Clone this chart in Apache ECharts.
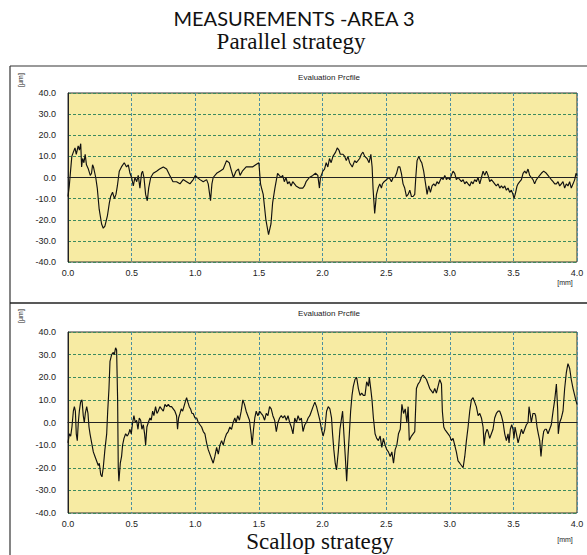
<!DOCTYPE html>
<html>
<head>
<meta charset="utf-8">
<script src="https://cdn.jsdelivr.net/npm/echarts@6/dist/echarts.min.js"></script>
<style>
html,body{margin:0;padding:0;background:#fff;}
#chart{width:587px;height:555px;}
</style>
</head>
<body>
<div id="chart"></div>
<script>
// ---------- DATA ----------
const mainTitle = "MEASUREMENTS -AREA 3";
const topTitle = "Parallel strategy";
const bottomTitle = "Scallop strategy";
const panelTitle = "Evaluation Prcfile";
const yUnit = "[µm]";
const xUnit = "[mm]";
const xTicks = [0, 0.5, 1.0, 1.5, 2.0, 2.5, 3.0, 3.5, 4.0];
const yTicks = [-40, -30, -20, -10, 0, 10, 20, 30, 40];

// Parallel strategy profile: position (mm) and height (µm)
const parallelX = [0.000,0.010,0.020,0.030,0.042,0.055,0.065,0.080,0.090,0.100,0.107,0.115,0.125,0.135,0.145,0.160,0.175,0.185,0.193,0.200,0.218,0.230,0.245,0.264,0.277,0.290,0.310,0.325,0.335,0.350,0.365,0.377,0.388,0.403,0.420,0.442,0.460,0.474,0.487,0.500,0.513,0.526,0.540,0.552,0.565,0.578,0.586,0.597,0.610,0.623,0.634,0.650,0.670,0.696,0.720,0.749,0.775,0.800,0.825,0.853,0.880,0.905,0.932,0.958,0.984,1.000,1.016,1.037,1.063,1.089,1.102,1.120,1.131,1.141,1.168,1.194,1.220,1.246,1.267,1.285,1.300,1.320,1.340,1.352,1.370,1.400,1.425,1.450,1.475,1.500,1.513,1.521,1.534,1.555,1.576,1.595,1.608,1.626,1.647,1.660,1.674,1.687,1.700,1.713,1.726,1.739,1.753,1.766,1.792,1.818,1.845,1.858,1.871,1.897,1.924,1.945,1.963,1.976,1.984,2.003,2.016,2.029,2.042,2.055,2.068,2.082,2.103,2.116,2.129,2.140,2.161,2.174,2.187,2.200,2.213,2.234,2.253,2.266,2.292,2.305,2.318,2.332,2.350,2.366,2.380,2.390,2.397,2.410,2.424,2.437,2.450,2.463,2.471,2.484,2.503,2.524,2.542,2.555,2.568,2.582,2.595,2.608,2.620,2.633,2.646,2.660,2.673,2.686,2.699,2.712,2.725,2.733,2.743,2.757,2.770,2.780,2.795,2.810,2.822,2.835,2.848,2.861,2.874,2.887,2.900,2.913,2.935,2.948,2.961,2.974,2.987,3.000,3.013,3.026,3.039,3.052,3.065,3.079,3.092,3.105,3.118,3.131,3.144,3.157,3.170,3.183,3.196,3.209,3.222,3.236,3.249,3.262,3.275,3.288,3.301,3.314,3.327,3.340,3.353,3.366,3.380,3.393,3.406,3.419,3.432,3.445,3.458,3.471,3.484,3.497,3.505,3.518,3.529,3.537,3.550,3.563,3.576,3.589,3.602,3.615,3.628,3.641,3.654,3.667,3.681,3.694,3.707,3.720,3.738,3.759,3.772,3.785,3.798,3.812,3.825,3.838,3.851,3.864,3.877,3.890,3.903,3.916,3.929,3.942,3.955,3.969,3.982,3.992,4.000];
const parallelY = [-9,-4,3,10,12,14,11,15,13,16,5,9,7,11,6,4,1,2,6,5,0,-5,-15,-22,-24,-23,-18,-12,-9,-7,-10,-8,-4,3,5,7,5,6,2,0,-4,0,-2,1,-5,2,3,0,-8,-11,-5,0,2,3,4,5,4,1,-2,-2,-3,-1,-2,-3,-1,1,0,-1,-2,-1,-3,-11,-3,0,2,3,4,8,7,3,0,3,4,1,3,5,5,5,6,7,-3,-5,-8,-20,-27,-22,-12,-5,2,1,0,1,-2,0,-3,-2,-4,-2,-4,-5,-5,-4,-2,0,1,2,1,-5,0,3,4,7,5,9,7,10,12,14,13,11,11,10,8,10,7,5,8,7,9,11,12,10,9,7,11,5,-5,-17,-8,-5,-3,-5,-3,-2,-1,0,-2,0,0,2,5,5,2,-3,-5,-9,-8,-6,-9,-9,-8,0,8,10,8,7,3,-3,-8,-4,-7,-4,-3,-4,-2,-3,0,-1,1,-1,0,-1,1,3,2,-1,0,-1,-2,-1,-3,-2,-3,-4,-2,-3,-1,-2,0,-3,0,3,1,3,1,-2,-1,-2,-3,-4,-3,-5,-4,-5,-4,-6,-5,-7,-6,-8,-10,-7,-4,-3,-2,-1,2,3,2,4,1,0,-1,-3,-1,0,1,2,3,2,1,0,-1,-2,-3,-3,-2,-4,-3,-2,-5,-3,-4,-2,-5,-3,-1,2,1];

// Scallop strategy profile: position (mm) and height (µm)
const scallopX = [0.000,0.010,0.021,0.031,0.042,0.050,0.058,0.065,0.073,0.081,0.089,0.099,0.110,0.120,0.128,0.136,0.147,0.157,0.165,0.173,0.186,0.199,0.212,0.225,0.238,0.246,0.257,0.267,0.277,0.290,0.304,0.312,0.322,0.330,0.343,0.356,0.364,0.374,0.382,0.390,0.395,0.400,0.411,0.421,0.429,0.440,0.453,0.466,0.476,0.487,0.497,0.508,0.518,0.529,0.539,0.550,0.560,0.571,0.581,0.592,0.602,0.610,0.620,0.631,0.644,0.654,0.665,0.675,0.688,0.699,0.709,0.722,0.735,0.749,0.762,0.775,0.788,0.801,0.814,0.827,0.840,0.853,0.861,0.869,0.880,0.890,0.901,0.911,0.921,0.932,0.942,0.953,0.963,0.974,0.984,0.998,1.011,1.024,1.037,1.050,1.063,1.076,1.089,1.102,1.115,1.128,1.141,1.154,1.168,1.181,1.194,1.207,1.220,1.233,1.246,1.259,1.272,1.285,1.298,1.311,1.321,1.334,1.347,1.361,1.374,1.387,1.400,1.413,1.426,1.439,1.447,1.458,1.468,1.479,1.492,1.505,1.518,1.532,1.545,1.558,1.571,1.584,1.597,1.610,1.624,1.637,1.650,1.663,1.676,1.689,1.703,1.716,1.729,1.742,1.755,1.768,1.782,1.795,1.808,1.821,1.834,1.847,1.861,1.874,1.887,1.900,1.913,1.926,1.940,1.953,1.966,1.979,1.992,2.005,2.018,2.032,2.045,2.058,2.071,2.079,2.089,2.100,2.110,2.124,2.137,2.150,2.158,2.168,2.179,2.190,2.200,2.211,2.221,2.232,2.242,2.255,2.268,2.282,2.295,2.308,2.321,2.334,2.347,2.361,2.368,2.379,2.389,2.400,2.413,2.426,2.439,2.453,2.466,2.479,2.492,2.505,2.518,2.532,2.545,2.558,2.571,2.584,2.597,2.611,2.624,2.637,2.650,2.663,2.673,2.682,2.699,2.712,2.725,2.738,2.751,2.764,2.777,2.790,2.804,2.817,2.830,2.843,2.856,2.869,2.882,2.895,2.908,2.921,2.935,2.942,2.953,2.961,2.974,2.987,3.000,3.013,3.026,3.039,3.052,3.065,3.079,3.092,3.105,3.118,3.131,3.144,3.157,3.170,3.183,3.196,3.209,3.223,3.236,3.249,3.262,3.270,3.280,3.293,3.301,3.314,3.327,3.340,3.353,3.366,3.380,3.393,3.406,3.419,3.432,3.445,3.458,3.466,3.476,3.487,3.497,3.505,3.513,3.524,3.537,3.550,3.563,3.576,3.589,3.602,3.615,3.623,3.634,3.641,3.654,3.668,3.675,3.686,3.696,3.707,3.717,3.728,3.738,3.749,3.759,3.772,3.785,3.798,3.812,3.825,3.838,3.848,3.853,3.864,3.877,3.890,3.903,3.916,3.929,3.942,3.955,3.969,3.982,3.990,4.000];
const scallopY = [-9,-5,-6,-2,5,7,5,-5,-8,0,5,9,10,3,0,4,7,4,-2,-5,-9,-13,-15,-17,-19,-18,-23,-24,-20,-12,-5,5,15,27,30,31,30,33,32,10,-20,-26,-18,-15,-10,-7,-5,-6,-5,-3,-5,0,3,0,1,-3,2,1,-3,-1,-5,-10,-2,0,2,1,5,3,7,4,5,7,6,5,8,7,8,7,7,6,5,3,-3,2,4,6,5,7,9,11,9,7,6,4,4,2,2,0,-1,-2,-4,-5,-9,-12,-14,-16,-18,-15,-11,-14,-10,-8,-10,-7,-5,-4,-2,-3,0,2,0,3,1,5,10,8,5,3,1,-5,-10,-3,2,5,3,5,4,3,1,4,3,7,6,3,1,-4,0,2,3,2,3,1,3,0,-2,-5,2,0,3,1,2,-4,-1,0,2,3,5,7,9,7,4,1,-3,-6,-3,5,7,6,2,-5,-12,-18,-21,-13,-3,2,5,-5,-15,-26,-15,-5,5,12,16,19,20,15,12,13,12,12,18,16,20,15,10,2,-5,-7,-8,-6,-11,-7,-10,-12,-13,-15,-13,-18,-12,-10,-5,-3,8,4,6,0,7,-8,-6,-5,-4,15,17,18,20,21,20,19,17,15,14,13,15,13,16,19,17,5,-2,-3,-4,-5,-6,-8,-7,-10,-13,-17,-18,-19,-20,-15,-8,-2,5,10,11,9,7,3,4,2,-2,-10,-5,-3,-4,-7,-5,-3,2,4,5,5,3,0,-5,-8,-5,-9,-3,-1,-3,-7,-2,-5,-9,-6,-3,-5,-3,-1,0,7,3,0,4,4,3,-2,-5,-8,-15,-8,-4,-3,-3,-5,-3,-1,5,10,17,6,-5,0,2,5,15,22,26,24,19,15,12,10,8];

// ---------- CHART ----------
const chart = echarts.init(document.getElementById('chart'), null, {renderer: 'svg'});
const pairs = (xs, ys) => xs.map((x, i) => [x, ys[i]]);

const plotBg = '#F7EBA3';
const tickFont = {fontFamily: 'Liberation Sans, Arial, sans-serif', fontSize: 9, color: '#222'};

function xAxisCfg(gridIndex, margin) {
  return {
    type: 'value', gridIndex: gridIndex,
    min: xTicks[0], max: xTicks[xTicks.length - 1], interval: 0.5,
    axisLine: {show: true, lineStyle: {color: '#222', width: 1}},
    axisTick: {show: false},
    axisLabel: Object.assign({margin: margin, formatter: v => v.toFixed(1)}, tickFont),
    splitLine: {show: true, lineStyle: {color: '#4a8fa0', type: [3, 2], width: 1}}
  };
}
function yAxisCfg(gridIndex) {
  return {
    type: 'value', gridIndex: gridIndex,
    min: yTicks[0], max: yTicks[yTicks.length - 1], interval: 10,
    axisLine: {show: true, lineStyle: {color: '#222', width: 1}},
    axisTick: {show: false},
    axisLabel: Object.assign({margin: 12, formatter: v => v.toFixed(1)}, tickFont),
    splitLine: {show: true, lineStyle: {color: '#3d8a5e', type: [3, 2], width: 1}}
  };
}
function seriesCfg(idx, data) {
  return {
    type: 'line', xAxisIndex: idx, yAxisIndex: idx,
    data: data, showSymbol: false, symbol: 'none', animation: false,
    lineStyle: {color: '#111', width: 1.15},
    markLine: {
      silent: true, symbol: 'none', animation: false,
      label: {show: false},
      lineStyle: {color: '#222', type: 'solid', width: 1.2},
      data: [{yAxis: 0}]
    }
  };
}

const option = {
  animation: false,
  backgroundColor: '#fff',
  grid: [
    {left: 68, top: 93, width: 509, height: 169, show: true, backgroundColor: plotBg, borderColor: '#333', borderWidth: 1},
    {left: 68, top: 332, width: 509, height: 181, show: true, backgroundColor: plotBg, borderColor: '#333', borderWidth: 1}
  ],
  xAxis: [xAxisCfg(0, 6), xAxisCfg(1, 6)],
  yAxis: [yAxisCfg(0), yAxisCfg(1)],
  series: [seriesCfg(0, pairs(parallelX, parallelY)), seriesCfg(1, pairs(scallopX, scallopY))],
  graphic: [
    {type: 'line', shape: {x1: 10, y1: 66, x2: 587, y2: 66}, style: {stroke: '#777', lineWidth: 1.5}},
    {type: 'line', shape: {x1: 10, y1: 66, x2: 10, y2: 555}, style: {stroke: '#333', lineWidth: 1.2}},
    {type: 'line', shape: {x1: 10, y1: 303, x2: 587, y2: 303}, style: {stroke: '#222', lineWidth: 1.5}},
    {type: 'text', x: 294, y: 18, style: {text: mainTitle, font: '20px Lato, "Open Sans", sans-serif', fill: '#111', textAlign: 'center', textVerticalAlign: 'middle'}},
    {type: 'text', x: 291, y: 41, style: {text: topTitle, font: '23px "Liberation Serif", "Times New Roman", serif', fill: '#111', textAlign: 'center', textVerticalAlign: 'middle'}},
    {type: 'text', x: 320, y: 541, style: {text: bottomTitle, font: '23px "Liberation Serif", "Times New Roman", serif', fill: '#111', textAlign: 'center', textVerticalAlign: 'middle'}},
    {type: 'text', x: 329, y: 77, style: {text: panelTitle, font: '8px "Liberation Sans", Arial, sans-serif', fill: '#222', textAlign: 'center', textVerticalAlign: 'middle'}},
    {type: 'text', x: 329, y: 313, style: {text: panelTitle, font: '8px "Liberation Sans", Arial, sans-serif', fill: '#222', textAlign: 'center', textVerticalAlign: 'middle'}},
    {type: 'text', x: 20, y: 80, rotation: Math.PI / 2, style: {text: yUnit, font: '7px "Liberation Sans", Arial, sans-serif', fill: '#222', textAlign: 'center', textVerticalAlign: 'middle'}},
    {type: 'text', x: 20, y: 316, rotation: Math.PI / 2, style: {text: yUnit, font: '7px "Liberation Sans", Arial, sans-serif', fill: '#222', textAlign: 'center', textVerticalAlign: 'middle'}},
    {type: 'text', x: 565, y: 282, style: {text: xUnit, font: '7px "Liberation Sans", Arial, sans-serif', fill: '#222', textAlign: 'center', textVerticalAlign: 'middle'}},
    {type: 'text', x: 565, y: 539, style: {text: xUnit, font: '7px "Liberation Sans", Arial, sans-serif', fill: '#222', textAlign: 'center', textVerticalAlign: 'middle'}}
  ]
};
chart.setOption(option);
</script>
</body>
</html>
